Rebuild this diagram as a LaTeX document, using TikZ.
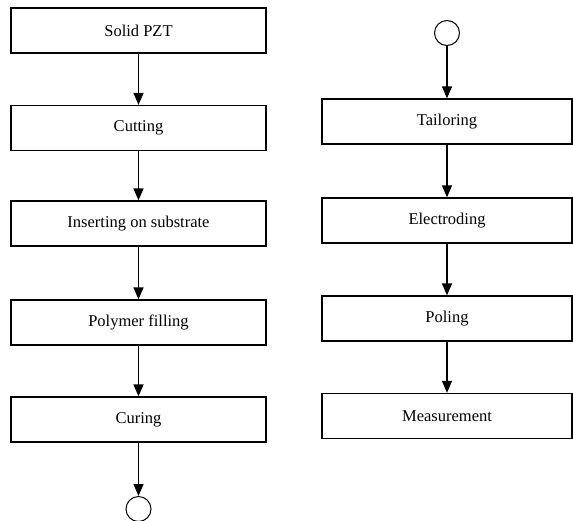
\documentclass[tikz,border=0pt]{standalone}
\usepackage{fontspec}
\setmainfont{Liberation Serif}
\usetikzlibrary{arrows.meta}
\begin{document}
\begin{tikzpicture}[x=1pt,y=-1pt,
  stepbox/.style={draw, line width=1.3pt, minimum height=45pt, inner sep=0pt,
    font=\fontsize{16.5}{19}\selectfont},
  leftbox/.style={stepbox, minimum width=255pt},
  rightbox/.style={stepbox, minimum width=250pt},
  conn/.style={circle, draw, line width=1pt, minimum size=25pt, inner sep=0pt},
  flow/.style={line width=1.3pt, -{Triangle[length=12pt,width=10pt]}}]
\useasboundingbox (0,0) rectangle (573,520);
\node[leftbox] (a) at (138.5,30.5) {Solid PZT};
\node[leftbox] (b) at (138.5,128) {Cutting};
\node[leftbox] (c) at (138.5,223.5) {Inserting on substrate};
\node[leftbox] (d) at (138.5,322.5) {Polymer filling};
\node[leftbox] (e) at (138.5,419.5) {Curing};
\node[conn] (o1) at (138.5,509) {};
\node[conn] (o2) at (447,33) {};
\node[rightbox] (f) at (447,121.5) {Tailoring};
\node[rightbox] (g) at (447,220.5) {Electroding};
\node[rightbox] (h) at (447,318.5) {Poling};
\node[rightbox] (i) at (447,416) {Measurement};
\draw[flow] (a) -- (b);
\draw[flow] (b) -- (c);
\draw[flow] (c) -- (d);
\draw[flow] (d) -- (e);
\draw[flow] (e) -- (o1);
\draw[flow] (o2) -- (f);
\draw[flow] (f) -- (g);
\draw[flow] (g) -- (h);
\draw[flow] (h) -- (i);
\end{tikzpicture}
\end{document}
